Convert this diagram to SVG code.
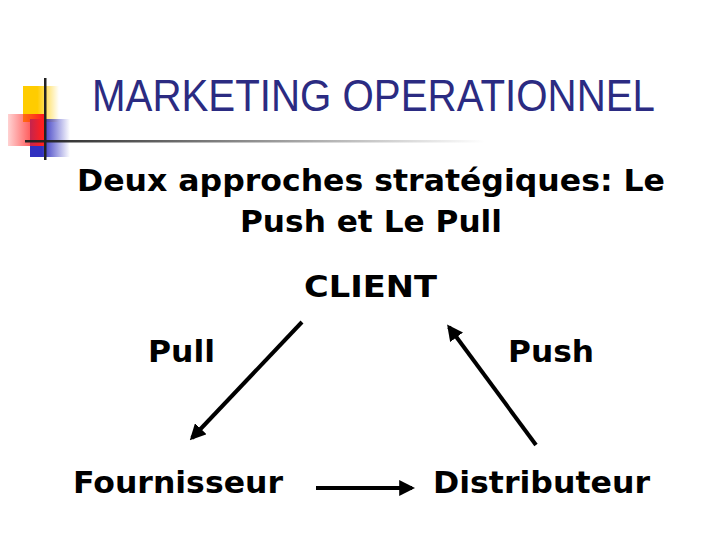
<svg xmlns="http://www.w3.org/2000/svg" width="720" height="540" viewBox="0 0 720 540">
<style>
.t{font-family:"DejaVu Sans","Liberation Sans",sans-serif;fill:#000;font-weight:bold}
.c{stroke:#000;stroke-width:4;fill:none;marker-end:url(#ah)}
</style>
<defs>
<marker id="ah" viewBox="0 0 10 10" refX="8" refY="5" markerWidth="4" markerHeight="4" orient="auto"><path d="M0,0L10,5L0,10z" fill="#000"/></marker>
<linearGradient id="gy" x1="0" x2="1"><stop offset="0.4" stop-color="#ffcc00"/><stop offset="1" stop-color="#ffcc00" stop-opacity="0"/></linearGradient>
<linearGradient id="gr" x1="0" x2="1"><stop offset="0" stop-color="#ff2020" stop-opacity="0.2"/><stop offset="0.9" stop-color="#ff2020"/></linearGradient>
<linearGradient id="gb" x1="0" x2="1"><stop offset="0.3" stop-color="#3030c0"/><stop offset="1" stop-color="#3030c0" stop-opacity="0"/></linearGradient>
<linearGradient id="gl" x1="0" x2="1"><stop offset="0" stop-color="#222"/><stop offset="1" stop-color="#222" stop-opacity="0"/></linearGradient>
</defs>
<g id="logo">
<rect x="23" y="86" width="36" height="36" fill="url(#gy)"/>
<rect x="30" y="119" width="40" height="38" fill="url(#gb)"/>
<rect x="8" y="114" width="38" height="32" fill="url(#gr)"/>
<rect x="25" y="140" width="460" height="2.5" fill="url(#gl)"/>
<rect x="44" y="78" width="2.5" height="82" fill="#222"/>
</g>
<g id="title"><text x="92" y="111" font-family="Liberation Sans,sans-serif" fill="#2b2b82" font-size="45" textLength="563" lengthAdjust="spacingAndGlyphs">MARKETING OPERATIONNEL</text></g>
<g id="subtitle">
<text x="77" y="191" class="t" font-size="31" textLength="588" lengthAdjust="spacingAndGlyphs">Deux approches stratégiques: Le</text>
<text x="240" y="232" class="t" font-size="31" textLength="262" lengthAdjust="spacingAndGlyphs">Push et Le Pull</text>
</g>
<g id="client"><text x="304" y="297" class="t" font-size="31" textLength="133" lengthAdjust="spacingAndGlyphs">CLIENT</text></g>
<g id="pull"><text x="148" y="362" class="t" font-size="31" textLength="67" lengthAdjust="spacingAndGlyphs">Pull</text></g>
<g id="push"><text x="508" y="362" class="t" font-size="31" textLength="86" lengthAdjust="spacingAndGlyphs">Push</text></g>
<g id="fournisseur"><text x="73" y="493" class="t" font-size="31" textLength="210" lengthAdjust="spacingAndGlyphs">Fournisseur</text></g>
<g id="distributeur"><text x="433" y="493" class="t" font-size="31" textLength="217" lengthAdjust="spacingAndGlyphs">Distributeur</text></g>
<g id="connectors">
<line class="c" x1="302" y1="322" x2="192" y2="438"/>
<line class="c" x1="536" y1="445" x2="449" y2="327"/>
<line class="c" x1="316" y1="488" x2="412" y2="488"/>
</g>
</svg>
